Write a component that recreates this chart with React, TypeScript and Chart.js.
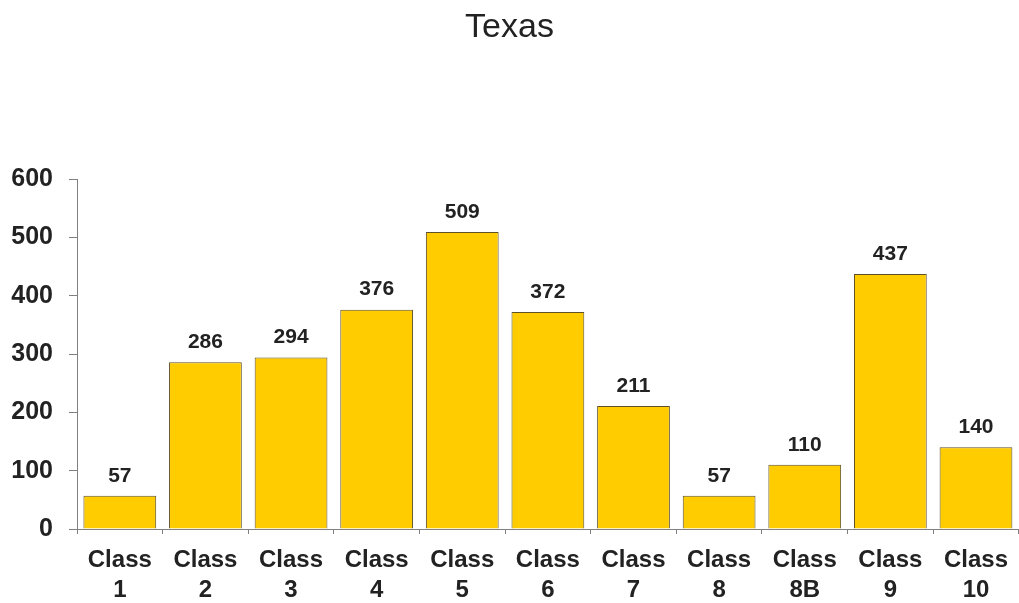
import React, { useEffect, useRef } from "react";
import { Chart, registerables } from "chart.js";

Chart.register(...registerables);

const categories: string[][] = [
  ["Class", "1"], ["Class", "2"], ["Class", "3"], ["Class", "4"], ["Class", "5"],
  ["Class", "6"], ["Class", "7"], ["Class", "8"], ["Class", "8B"], ["Class", "9"], ["Class", "10"],
];
const values: number[] = [57, 286, 294, 376, 509, 372, 211, 57, 110, 437, 140];
const yTicks: number[] = [0, 100, 200, 300, 400, 500, 600];
const title = "Texas";

const FONT = "'Liberation Sans', Arial, sans-serif";

const valueLabels = {
  id: "valueLabels",
  afterDatasetsDraw(chart: any) {
    const ctx = chart.ctx;
    const meta = chart.getDatasetMeta(0);
    ctx.save();
    ctx.font = `bold 21px ${FONT}`;
    ctx.fillStyle = "#222222";
    ctx.textAlign = "center";
    ctx.textBaseline = "middle";
    meta.data.forEach((bar: any, i: number) => {
      ctx.fillText(String(values[i]), bar.x, bar.y - 20);
    });
    ctx.restore();
  },
};

export default function App() {
  const ref = useRef<HTMLCanvasElement | null>(null);
  useEffect(() => {
    document.body.style.margin = "0";
    const chart = new Chart(ref.current!, {
      type: "bar",
      data: {
        labels: categories,
        datasets: [
          {
            data: values,
            backgroundColor: "#FFCC00",
            borderColor: "#5e5028",
            borderWidth: 1,
            barPercentage: 0.85,
            categoryPercentage: 1,
          },
        ],
      },
      options: {
        animation: false,
        responsive: false,
        maintainAspectRatio: false,
        layout: { padding: { left: 0, right: 0, top: 0, bottom: 0 } },
        plugins: {
          legend: { display: false },
          tooltip: { enabled: false },
          title: {
            display: true,
            text: title,
            color: "#222222",
            font: { family: FONT, size: 34, weight: "normal", lineHeight: 1.2 },
            padding: { top: 7, bottom: 131.2 },
          },
        },
        scales: {
          x: {
            offset: true,
            grid: {
              display: true,
              offset: true,
              drawOnChartArea: false,
              drawTicks: true,
              tickLength: 5,
              color: "#808080",
            },
            border: { display: true, color: "#808080", width: 1 },
            ticks: {
              color: "#222222",
              font: { family: FONT, size: 24, weight: "bold", lineHeight: 1.27 },
              padding: 11,
              maxRotation: 0,
              autoSkip: false,
            },
            afterFit: (scale: any) => {
              scale.height = 74;
            },
          },
          y: {
            min: 0,
            max: 600,
            afterBuildTicks: (scale: any) => {
              scale.ticks = yTicks.map((v) => ({ value: v }));
            },
            grid: {
              display: true,
              drawOnChartArea: false,
              drawTicks: true,
              tickLength: 8,
              color: "#808080",
            },
            border: { display: true, color: "#808080", width: 1 },
            ticks: {
              color: "#222222",
              font: { family: FONT, size: 25, weight: "bold" },
              padding: 16,
            },
            afterFit: (scale: any) => {
              scale.width = 77;
            },
          },
        },
      },
      plugins: [valueLabels],
    });
    return () => chart.destroy();
  }, []);
  return <canvas ref={ref} width={1019} height={603} style={{ display: "block" }} />;
}
